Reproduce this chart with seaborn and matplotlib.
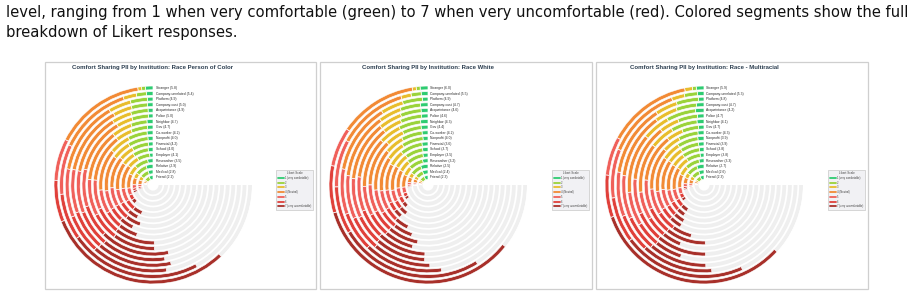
import numpy as np
import matplotlib
matplotlib.use("Agg")
import matplotlib.pyplot as plt
import seaborn as sns
from matplotlib.transforms import offset_copy
from matplotlib.patches import Rectangle
from matplotlib.lines import Line2D
from matplotlib import font_manager

sns.set_theme(style="white")
plt.rcParams["font.family"] = ["Liberation Sans", "DejaVu Sans"]

# ---------------- data ----------------
categories = ["Stranger", "Company-unrelated", "Platform", "Company-cust", "Acquaintance",
              "Police", "Neighbor", "Gov", "Co-worker", "Nonprofit", "Financial", "School",
              "Employer", "Researcher", "Relative", "Medical", "Friend"]

likert_labels = ["1 (very comfortable)", "2", "3", "4 (Neutral)", "5", "6",
                 "7 (very uncomfortable)"]
likert_hex = ["#2ecc71", "#9ad33a", "#e8bd2c", "#f28a35", "#f0605a", "#e0403a", "#a8302a"]

panel_titles = ["Comfort Sharing PII by Institution: Race Person of Color",
                "Comfort Sharing PII by Institution: Race White",
                "Comfort Sharing PII by Institution: Race - Multiracial"]

poc_means = [5.8, 5.4, 4.9, 5.0, 4.9, 5.0, 4.7, 4.7, 4.2, 4.0, 4.2, 4.0, 4.1, 3.5, 2.9, 2.8, 2.2]
poc_pct = [
    [2, 1, 1, 24, 11, 11, 50], [2, 3, 4, 22, 15, 14, 40], [2, 6, 8, 26, 17, 14, 27],
    [2, 6, 7, 26, 16, 15, 28], [2, 7, 8, 25, 17, 15, 26], [2, 7, 7, 24, 16, 14, 30],
    [3, 8, 10, 26, 18, 14, 21], [3, 9, 9, 26, 16, 15, 22], [4, 13, 14, 28, 16, 12, 13],
    [4, 16, 15, 28, 15, 11, 11], [4, 14, 13, 27, 16, 13, 13], [5, 16, 14, 28, 15, 11, 11],
    [4, 15, 14, 28, 16, 12, 11], [9, 23, 16, 24, 12, 9, 7], [18, 30, 14, 18, 9, 6, 5],
    [18, 32, 15, 17, 8, 6, 4], [30, 38, 12, 12, 4, 2, 2]]

white_means = [6.0, 5.5, 4.9, 4.7, 4.6, 4.6, 4.3, 4.4, 4.2, 4.0, 3.6, 3.7, 3.5, 3.2, 2.5, 2.4, 2.3]
white_pct = [
    [2, 1, 1, 20, 10, 12, 54], [2, 3, 3, 21, 14, 14, 43], [2, 7, 8, 25, 16, 14, 28],
    [3, 8, 9, 26, 17, 14, 23], [3, 9, 10, 26, 17, 13, 22], [3, 10, 9, 25, 16, 14, 23],
    [4, 12, 12, 27, 16, 13, 16], [4, 11, 11, 27, 16, 13, 18], [4, 14, 13, 28, 16, 12, 13],
    [4, 17, 15, 27, 15, 11, 11], [6, 22, 16, 26, 13, 9, 8], [6, 20, 16, 27, 13, 9, 9],
    [7, 23, 16, 25, 13, 9, 7], [10, 27, 17, 23, 11, 7, 5], [22, 34, 14, 16, 7, 4, 3],
    [24, 34, 14, 15, 6, 4, 3], [28, 36, 13, 13, 5, 3, 2]]

multi_means = [5.9, 5.3, 4.8, 4.7, 4.2, 4.7, 4.1, 4.7, 4.3, 3.9, 3.9, 3.8, 3.8, 3.3, 2.7, 2.6, 2.3]
multi_pct = [
    [2, 1, 2, 22, 10, 11, 52], [2, 4, 4, 23, 15, 14, 38], [2, 8, 8, 26, 16, 14, 26],
    [3, 8, 9, 26, 17, 14, 23], [4, 14, 13, 28, 16, 12, 13], [3, 9, 9, 26, 16, 14, 23],
    [4, 15, 14, 28, 16, 12, 11], [3, 9, 9, 26, 16, 15, 22], [4, 13, 12, 28, 17, 13, 13],
    [5, 17, 15, 28, 15, 10, 10], [5, 17, 15, 27, 16, 10, 10], [5, 19, 15, 28, 14, 10, 9],
    [5, 18, 16, 28, 14, 10, 9], [9, 26, 17, 24, 11, 8, 5], [20, 32, 14, 17, 8, 5, 4],
    [21, 33, 15, 16, 7, 5, 3], [28, 36, 13, 13, 5, 3, 2]]

caption_line1 = ("level, ranging from 1 when very comfortable (green) to 7 when very uncomfortable "
                 "(red). Colored segments show the full")
caption_line2 = "breakdown of Likert responses."

# ---------------- drawing ----------------
W, H = 912, 298
fig = plt.figure(figsize=(W / 100, H / 100), dpi=100)
fig.patch.set_facecolor("white")

colors = sns.color_palette(likert_hex)
track_color = "#efefef"

panels = [(poc_means, poc_pct), (white_means, white_pct), (multi_means, multi_pct)]
panel_boxes = [(45, 62, 316, 289), (320, 62, 592, 289), (596, 62, 868, 289)]
centers_x = [153, 428, 704]
cy = 185
R_px = 99.0
ring_thick = 0.68
ring_base = 1.0
n = len(categories)
rmax = ring_base + (n - 1) + ring_thick
full = 1.5 * np.pi

for (means, pct), box, cx, title in zip(panels, panel_boxes, centers_x, panel_titles):
    x0, y0, x1, y1 = box
    fig.add_artist(Rectangle((x0 / W, 1 - y1 / H), (x1 - x0) / W, (y1 - y0) / H,
                             transform=fig.transFigure, fill=False,
                             edgecolor="#cfcfcf", linewidth=0.9))
    ax = fig.add_axes([(cx - R_px) / W, (H - cy - R_px) / H, 2 * R_px / W, 2 * R_px / H],
                      projection="polar")
    ax.set_ylim(0, rmax)
    ax.set_axis_off()
    lab_trans = offset_copy(ax.transData, fig=fig, x=2.5, y=0, units="dots")
    for i, (cat, m, p) in enumerate(zip(categories, means, pct)):
        j = n - 1 - i  # outermost first
        b = ring_base + j
        ax.bar(np.pi / 2, ring_thick, width=full, bottom=b, align="edge",
               color=track_color, edgecolor="none", zorder=1)
        sweep = m / 7.0 * full
        p = np.asarray(p, dtype=float)
        widths = p / p.sum() * sweep
        starts = np.pi / 2 + np.concatenate([[0], np.cumsum(widths)[:-1]])
        ax.bar(starts, ring_thick, width=widths, bottom=b, align="edge",
               color=colors, edgecolor="white", linewidth=0.5, zorder=2)
        ax.text(np.pi / 2, b + ring_thick / 2, f"{cat} ({m:.1f})", transform=lab_trans,
                ha="left", va="center", fontsize=2.4, color="#2a2a2a", zorder=5)
    fig.text(cx / W, 1 - 67 / H, title, ha="center", va="center", fontsize=4.3,
             fontweight="bold", color="#2c3e50")
    handles = [Line2D([0], [0], color=c, lw=1.3) for c in colors]
    leg = fig.legend(handles, likert_labels, title="Likert Scale", loc="upper right",
                     bbox_to_anchor=((x1 - 2.0) / W, 1 - 168.5 / H), fontsize=1.9,
                     title_fontsize=2.2, frameon=True, facecolor="#eeeef2",
                     edgecolor="#bbbbbb", handlelength=2.2, borderpad=0.5,
                     labelspacing=0.28, handletextpad=0.6, fancybox=False)
    leg.get_frame().set_linewidth(0.5)
    for t in leg.get_texts():
        t.set_color("#444444")
    leg.get_title().set_color("#444444")

# caption font: prefer a condensed face if one is installed
cap_kw = dict(family=["Lato", "Liberation Sans", "DejaVu Sans"])
try:
    fp = font_manager.FontProperties(family="DejaVu Sans", stretch="condensed")
    path = font_manager.findfont(fp, fallback_to_default=False)
    if "ondensed" in path:
        cap_kw = dict(family=["DejaVu Sans"], fontstretch="condensed")
except Exception:
    pass

t1 = fig.text(6 / W, 1 - 12 / H, caption_line1, ha="left", va="center", fontsize=12,
              color="#111111", **cap_kw)
t2 = fig.text(6 / W, 1 - 33 / H, caption_line2, ha="left", va="center", fontsize=12,
              color="#111111", **cap_kw)
fig.canvas.draw()
wpx = t1.get_window_extent().width
fs = 12 * 899 / wpx
t1.set_fontsize(fs)
t2.set_fontsize(fs)

fig.savefig("out.png", dpi=100, facecolor="white")
